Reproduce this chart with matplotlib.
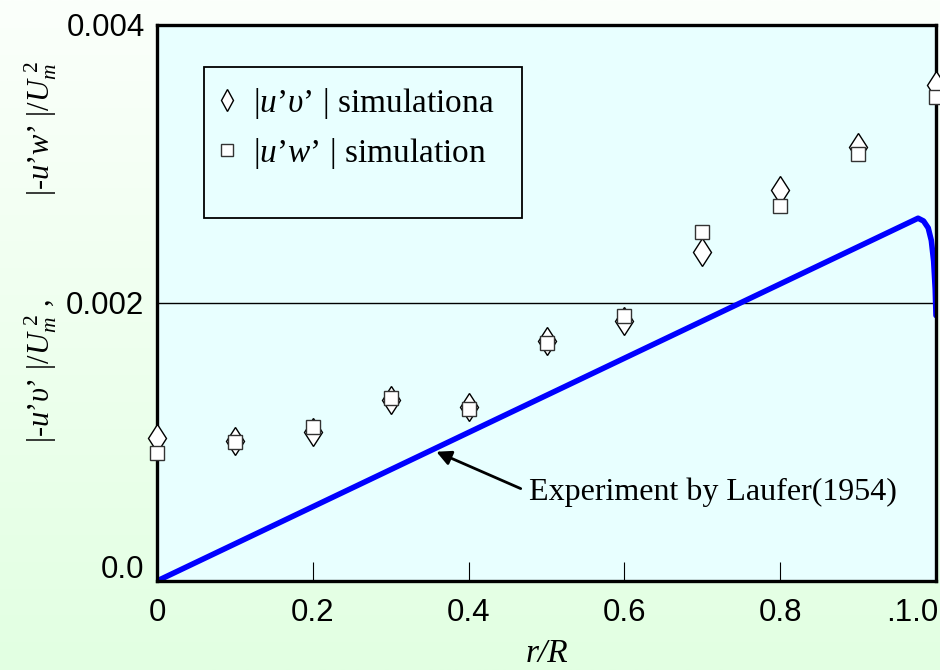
import numpy as np
import matplotlib.pyplot as plt
import matplotlib.transforms as mtransforms
from matplotlib.colors import LinearSegmentedColormap
from matplotlib.lines import Line2D
from matplotlib.patches import Rectangle

plt.rcParams['font.family'] = 'Liberation Sans'
plt.rcParams['mathtext.fontset'] = 'custom'
plt.rcParams['mathtext.rm'] = 'Liberation Serif'
plt.rcParams['mathtext.it'] = 'Liberation Serif:italic'
plt.rcParams['mathtext.bf'] = 'Liberation Serif:bold'

# simulation, r/R positions
r_sim = [0.0, 0.1, 0.2, 0.3, 0.4, 0.5, 0.6, 0.7, 0.8, 0.9, 1.0]
uv_sim = [0.00103, 0.00101, 0.00107, 0.00130, 0.00125, 0.00173, 0.00187, 0.00237, 0.00281, 0.00312, 0.00357]
uw_sim = [0.00092, 0.00100, 0.00111, 0.00132, 0.00124, 0.00171, 0.00191, 0.00251, 0.00270, 0.00307, 0.00348]

# Laufer (1954) measurements
r_exp = [0.0, 0.977, 0.984, 0.990, 0.994, 0.997, 0.999, 1.0]
uv_exp = [0.0, 0.00261, 0.00259, 0.00254, 0.00245, 0.00230, 0.00210, 0.00191]

xticks = [0.0, 0.2, 0.4, 0.6, 0.8, 1.0]
xticklabels = ['0', '0.2', '0.4', '0.6', '0.8', '.1.0']
yticks = [0.0, 0.002, 0.004]
yticklabels = ['0.0', '0.002', '0.004']

serif = 'Liberation Serif'
fs = 22.5

fig = plt.figure(figsize=(9.4, 6.7), dpi=100)

# soft green background behind everything
bg = fig.add_axes([0, 0, 1, 1], zorder=-10)
grad = np.linspace(0, 1, 256).reshape(-1, 1)
cmap = LinearSegmentedColormap.from_list('bg', ['#fbfffb', '#e2ffe2'])
bg.imshow(grad, aspect='auto', cmap=cmap, extent=[0, 1, 0, 1])
bg.axis('off')

ax = fig.add_axes([157 / 940, 1 - 581 / 670, 779 / 940, 556 / 670])
ax.set_facecolor('#e8ffff')

ax.axhline(0.002, color='black', lw=1.0, zorder=1)
ax.plot(r_exp, uv_exp, color='#0000ff', lw=4.0, solid_capstyle='round',
        solid_joinstyle='round', zorder=2)
ax.plot(r_sim, uv_sim, ls='none', marker='d', ms=14.5, mfc='white', mec='black',
        mew=1.0, clip_on=False, zorder=4)
ax.plot(r_sim, uw_sim, ls='none', marker='s', ms=10, mfc='white', mec='#333333',
        mew=1.0, clip_on=False, zorder=5)

ax.set_xlim(0, 1.0)
ax.set_ylim(0, 0.004)
ax.set_xticks(xticks)
ax.set_xticklabels(xticklabels)
ax.set_yticks(yticks)
ax.set_yticklabels(yticklabels)
ax.tick_params(axis='x', direction='in', length=14, width=0.8, pad=12, labelsize=fs)
ax.tick_params(axis='y', length=0, pad=9, labelsize=fs)
for s in ax.spines.values():
    s.set_linewidth(2.4)
    s.set_zorder(3)

# lift the bottom y label a little, keep the last x label inside the figure
lab0 = ax.get_yticklabels()[0]
lab0.set_transform(lab0.get_transform() + mtransforms.ScaledTranslation(0, 0.14, fig.dpi_scale_trans))
labx = ax.get_xticklabels()[-1]
labx.set_horizontalalignment('right')
labx.set_transform(labx.get_transform() + mtransforms.ScaledTranslation(0.02, 0, fig.dpi_scale_trans))

ax.set_xlabel('r/R', family=serif, style='italic', fontsize=24, labelpad=8)

fig.text(41 / 940, 1 - 371 / 670, "|-$u$’$\\upsilon$’ |/$U_m^{\\ 2}$ ,", rotation=90,
         ha='center', va='center', fontsize=22, family=serif)
fig.text(41 / 940, 1 - 128 / 670, "|-$u$’$w$’ |/$U_m^{\\ 2}$", rotation=90,
         ha='center', va='center', fontsize=22, family=serif)

# legend with a plain rectangular box
handles = [Line2D([], [], ls='none', marker='d', ms=11, mfc='white', mec='black', mew=1.0),
           Line2D([], [], ls='none', marker='s', ms=8, mfc='white', mec='#333333', mew=1.0)]
labels = ["|$u$’$\\upsilon$’ | simulationa", "|$u$’$w$’ | simulation"]
ax.legend(handles, labels, loc='upper left', bbox_to_anchor=(0.07, 0.89),
          frameon=False, prop={'family': serif, 'size': 24}, handlelength=0.9,
          handletextpad=0.35, labelspacing=0.45, borderpad=0, borderaxespad=0)
ax.add_patch(Rectangle((47 / 780, (581 - 218) / 556), 318 / 780, 151 / 556,
                       transform=ax.transAxes, fill=False, ec='black', lw=1.3, zorder=6))

ax.annotate('Experiment by Laufer(1954)', xy=(0.3586, 0.00093), xytext=(0.477, 0.00064),
            fontsize=23, family=serif, ha='left', va='center',
            arrowprops=dict(arrowstyle='-|>', color='black', lw=2.0, mutation_scale=22,
                            relpos=(0, 0.5), shrinkA=4, shrinkB=0))

fig.savefig('out.png', dpi=100)
